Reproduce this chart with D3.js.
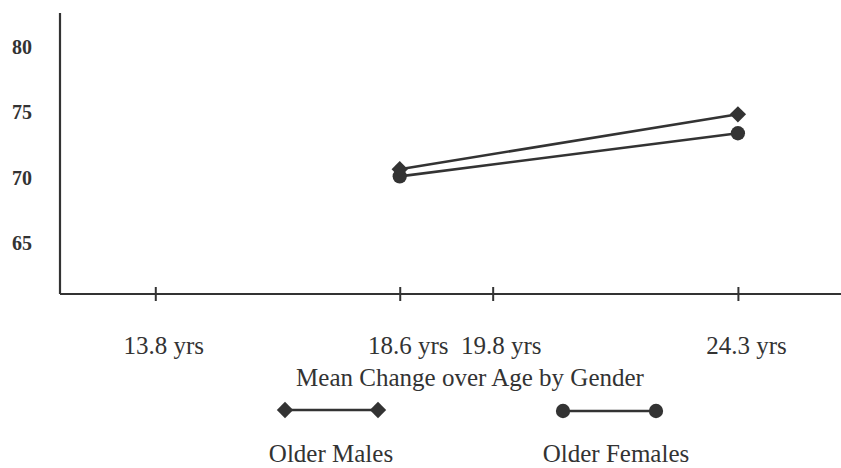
<!DOCTYPE html>
<html>
<head>
<meta charset="utf-8">
<script src="https://cdn.jsdelivr.net/npm/d3@7"></script>
<style>
  html, body { margin: 0; padding: 0; background: #fff; }
  svg { display: block; }
  text { font-family: "Liberation Serif", "Times New Roman", serif; fill: #333; }
</style>
</head>
<body>
<svg id="chart" width="841" height="468"></svg>
<script>
// ---- data ----
const ages = [13.8, 18.6, 19.8, 24.3];
const ageLabels = ["13.8 yrs", "18.6 yrs", "19.8 yrs", "24.3 yrs"];
const yTicks = [65, 70, 75, 80];
const maleAges = [18.6, 24.3];
const maleValues = [70.65, 74.85];
const femaleAges = [18.6, 24.3];
const femaleValues = [70.1, 73.4];
const seriesNames = ["Older Males", "Older Females"];
const xTitle = "Mean Change over Age by Gender";

// ---- layout ----
const W = 841, H = 468;
const m = { left: 60, right: 0, top: 13, bottom: 174 };
const iw = W - m.left - m.right, ih = H - m.top - m.bottom;
const ink = "#333";

const svg = d3.select("#chart");

// tick positions in the original are not proportional to age: use a piecewise scale
const xFrac = [0.122, 0.435, 0.554, 0.868];
const x = d3.scaleLinear().domain(ages).range(xFrac.map(f => m.left + f * iw));
const y = d3.scaleLinear().domain([61.1, 82.6]).range([m.top + ih, m.top]);

// x axis
const gx = svg.append("g").attr("transform", `translate(0,${m.top + ih})`)
  .call(d3.axisBottom(x).tickValues(ages)
    .tickFormat((d, i) => ageLabels[i]).tickSize(6).tickPadding(36).tickSizeOuter(0));
gx.select(".domain").attr("d", `M${m.left},0H${W}`).attr("stroke", ink).attr("stroke-width", 2.2);
gx.selectAll(".tick line").attr("y1", -7).attr("y2", 7).attr("stroke", ink).attr("stroke-width", 2);
gx.selectAll(".tick text").attr("font-size", 25).attr("dx", 8).attr("fill", ink)
  .attr("font-family", "Liberation Serif, serif");

// y axis
const gy = svg.append("g").attr("transform", `translate(${m.left},0)`)
  .call(d3.axisLeft(y).tickValues(yTicks).tickSize(0).tickPadding(28));
gy.select(".domain").attr("d", `M0,${m.top}V${m.top + ih}`).attr("stroke", ink).attr("stroke-width", 2.2);
gy.selectAll(".tick text").attr("font-size", 20).attr("fill", ink)
  .attr("font-family", "Liberation Serif, serif").attr("font-weight", "bold");

// x title
svg.append("text").attr("x", 470).attr("y", 386).attr("text-anchor", "middle")
  .attr("font-size", 25).text(xTitle);

// series
const line = d3.line().x(d => x(d[0])).y(d => y(d[1]));
const males = maleAges.map((a, i) => [a, maleValues[i]]);
const females = femaleAges.map((a, i) => [a, femaleValues[i]]);
const diamond = d3.symbol().type(d3.symbolDiamond2).size(170);
const circle = d3.symbol().type(d3.symbolCircle).size(160);

function drawSeries(data, sym) {
  svg.append("path").datum(data).attr("d", line).attr("fill", "none")
    .attr("stroke", ink).attr("stroke-width", 2.6);
  svg.append("g").selectAll("path").data(data).join("path")
    .attr("transform", d => `translate(${x(d[0])},${y(d[1])})`)
    .attr("d", sym).attr("fill", ink);
}
drawSeries(females, circle);
drawSeries(males, diamond);

// legend
const legend = [
  { name: seriesNames[0], sym: diamond, x0: 285, x1: 378, ly: 410, tx: 331 },
  { name: seriesNames[1], sym: circle, x0: 563, x1: 656, ly: 411, tx: 616 }
];
legend.forEach(L => {
  svg.append("line").attr("x1", L.x0).attr("x2", L.x1).attr("y1", L.ly).attr("y2", L.ly)
    .attr("stroke", ink).attr("stroke-width", 2.6);
  [L.x0, L.x1].forEach(px => svg.append("path")
    .attr("transform", `translate(${px},${L.ly})`).attr("d", L.sym).attr("fill", ink));
  svg.append("text").attr("x", L.tx).attr("y", 462).attr("text-anchor", "middle")
    .attr("font-size", 25).text(L.name);
});
</script>
</body>
</html>
